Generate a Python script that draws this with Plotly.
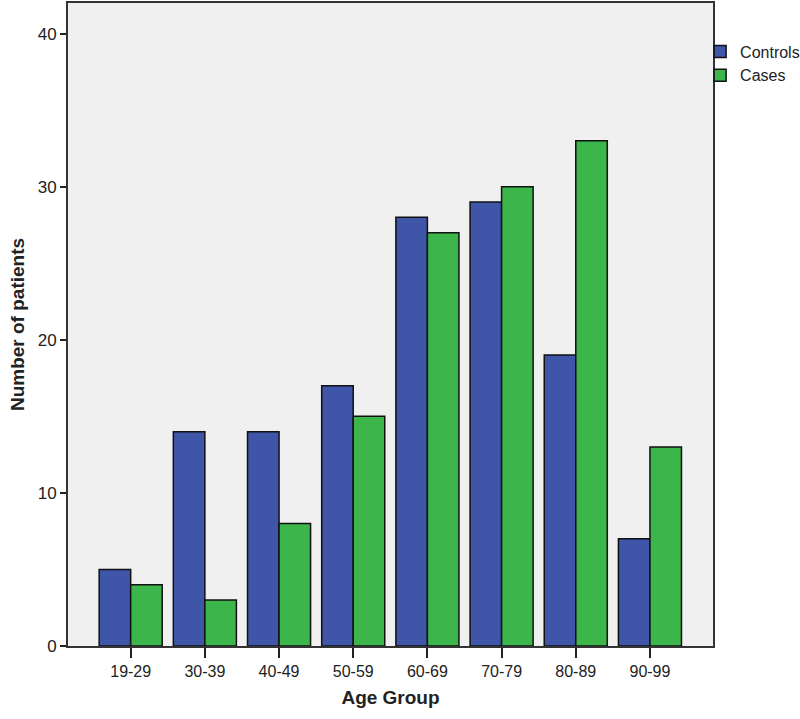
import plotly.graph_objects as go

age_groups = ["19-29", "30-39", "40-49", "50-59", "60-69", "70-79", "80-89", "90-99"]
controls = [5, 14, 14, 17, 28, 29, 19, 7]
cases = [4, 3, 8, 15, 27, 30, 33, 13]
y_ticks = [0, 10, 20, 30, 40]

fig = go.Figure()
fig.add_trace(go.Bar(x=age_groups, y=controls, name="Controls",
                     marker=dict(color="#3f55a8", line=dict(color="#111111", width=1.5))))
fig.add_trace(go.Bar(x=age_groups, y=cases, name="Cases",
                     marker=dict(color="#3cb54a", line=dict(color="#111111", width=1.5))))

fig.update_layout(
    width=800, height=719,
    margin=dict(l=68, r=87, t=3, b=73, autoexpand=False),
    paper_bgcolor="white",
    plot_bgcolor="#f0f0f0",
    barmode="group", bargap=0.15, bargroupgap=0,
    font=dict(family="Liberation Sans, Arial, sans-serif", size=15, color="#222222"),
    legend=dict(x=0.98, y=0.951, xanchor="left", yanchor="top",
                font=dict(size=16, color="#222222"), bgcolor="rgba(0,0,0,0)",
                tracegroupgap=0, itemwidth=30),
    showlegend=True,
)
fig.update_xaxes(
    range=[-0.845, 7.85], showline=True, linecolor="#333333", linewidth=2, mirror=True,
    ticks="outside", ticklen=10, tickcolor="#222222", tickwidth=1.5,
    showgrid=False, zeroline=False, automargin=False, tickfont=dict(size=16),
    title=dict(text="<b>Age Group</b>", font=dict(size=19, color="#222222"), standoff=11),
)
fig.update_yaxes(
    range=[0, 42.0], tickvals=y_ticks, showline=True, linecolor="#333333", linewidth=2, mirror=True,
    ticks="outside", ticklen=6, tickcolor="#222222", tickwidth=1.5,
    showgrid=False, zeroline=False, automargin=False, tickfont=dict(size=17),
    title=dict(text="<b>Number of patients</b>", font=dict(size=19, color="#222222"), standoff=8),
)
fig.write_html("out.html", config={"displayModeBar": False},
               post_script="document.body.style.margin='0';")
